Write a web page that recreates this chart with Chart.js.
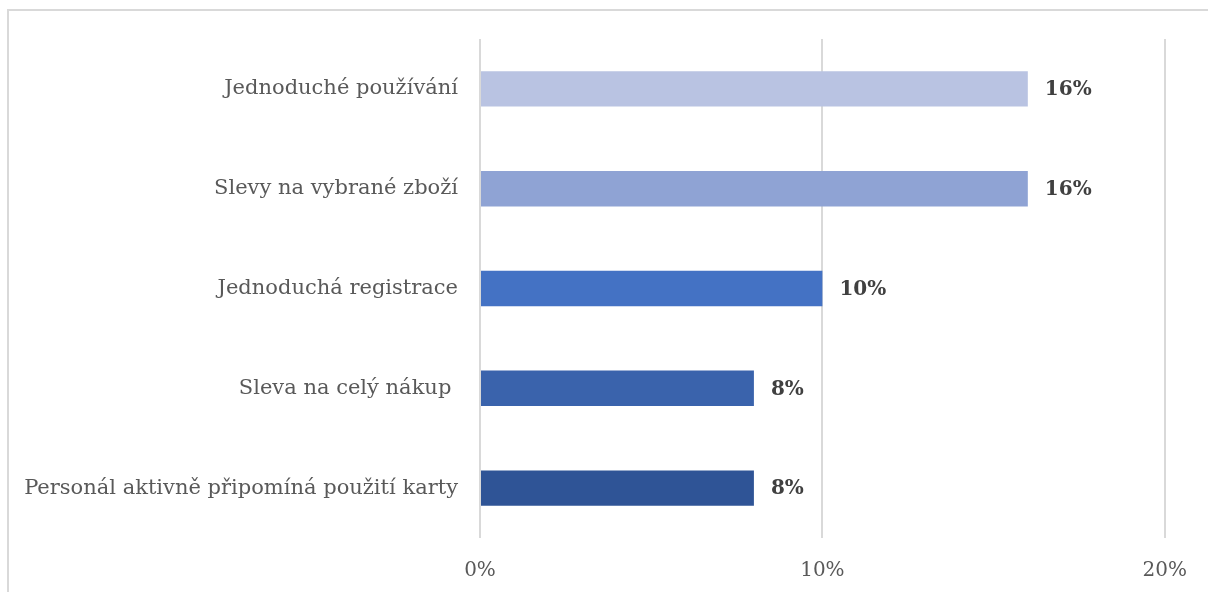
<!DOCTYPE html>
<html>
<head>
<meta charset="utf-8">
<script src="https://cdn.jsdelivr.net/npm/chart.js@4/dist/chart.umd.min.js"></script>
<style>
  html, body { margin: 0; padding: 0; background: #fff; overflow: hidden; }
  #wrap { position: relative; width: 1208px; height: 592px; }
  #frame { position: absolute; left: 7px; top: 9px; width: 1300px; height: 700px; border: 2px solid #d9d9d9; box-sizing: border-box; }
  canvas { position: absolute; left: 0; top: 0; }
</style>
</head>
<body>
<div id="wrap">
  <div id="frame"></div>
  <canvas id="c" width="1208" height="592"></canvas>
</div>
<script>
const categories = [
  "Jednoduché používání",
  "Slevy na vybrané zboží",
  "Jednoduchá registrace",
  "Sleva na celý nákup ",
  "Personál aktivně připomíná použití karty"
];
const values = [16, 16, 10, 8, 8];
const barColors = ["#B9C3E2", "#8FA3D4", "#4472C4", "#3A63AC", "#2F5496"];
const xTicks = [0, 10, 20];

const SERIF = "'DejaVu Serif', 'Liberation Serif', serif";

const valueLabels = {
  id: 'valueLabels',
  afterDatasetsDraw(chart) {
    const ctx = chart.ctx;
    const meta = chart.getDatasetMeta(0);
    ctx.save();
    ctx.font = "bold 20px " + SERIF;
    ctx.fillStyle = "#404040";
    ctx.textAlign = "left";
    ctx.textBaseline = "middle";
    meta.data.forEach((el, i) => {
      ctx.fillText(values[i] + "%", el.x + 17, el.y + 1);
    });
    ctx.restore();
  }
};

new Chart(document.getElementById('c'), {
  type: 'bar',
  data: {
    labels: categories,
    datasets: [{
      data: values,
      backgroundColor: barColors,
      borderWidth: 0,
      barPercentage: 1,
      categoryPercentage: 0.355
    }]
  },
  options: {
    indexAxis: 'y',
    responsive: false,
    animation: false,
    layout: { padding: { left: 0, top: 39, right: 42, bottom: 0 } },
    plugins: { legend: { display: false }, tooltip: { enabled: false } },
    scales: {
      x: {
        min: 0, max: 20,
        afterBuildTicks(scale) { scale.ticks = xTicks.map(v => ({ value: v })); },
        afterFit(scale) { scale.height = 54; },
        grid: { color: "#d9d9d9", lineWidth: 2, drawTicks: false },
        border: { display: false },
        ticks: {
          padding: 21,
          color: "#595959",
          font: { family: SERIF, size: 20 },
          callback: v => v + "%"
        }
      },
      y: {
        afterFit(scale) { scale.width = 480; },
        grid: { display: false, drawTicks: false },
        border: { display: false },
        ticks: {
          padding: 22,
          color: "#595959",
          font: { family: SERIF, size: 21 }
        }
      }
    }
  },
  plugins: [valueLabels]
});
</script>
</body>
</html>
